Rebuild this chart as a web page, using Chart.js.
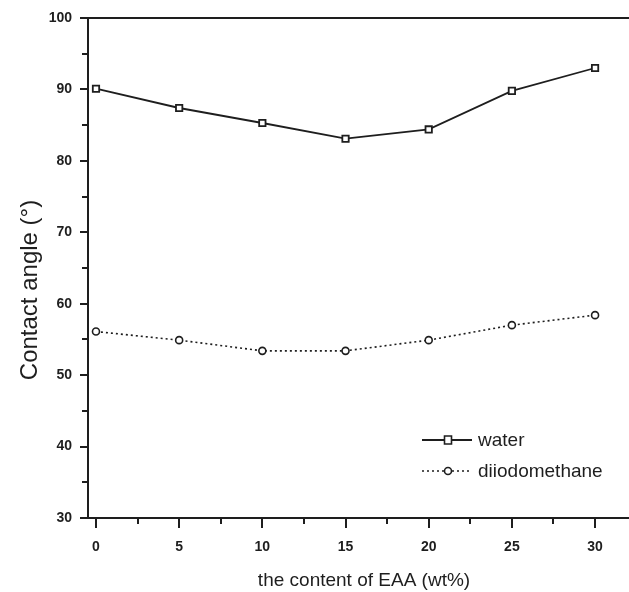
<!DOCTYPE html>
<html>
<head>
<meta charset="utf-8">
<script src="https://cdn.jsdelivr.net/npm/chart.js@4.4.1/dist/chart.umd.min.js"></script>
<style>
html,body{margin:0;padding:0;background:#fff;}
#wrap{width:629px;height:592px;}
</style>
</head>
<body>
<div id="wrap"><canvas id="c" width="629" height="592"></canvas></div>
<script>
const eaaContent = [0, 5, 10, 15, 20, 25, 30];
const waterAngle = [90.1, 87.4, 85.3, 83.1, 84.4, 89.8, 93.0];
const diiodomethaneAngle = [56.1, 54.9, 53.4, 53.4, 54.9, 57.0, 58.4];
const xTickLabels = [0, 5, 10, 15, 20, 25, 30];
const yTickLabels = [30, 40, 50, 60, 70, 80, 90, 100];
const seriesNames = ['water', 'diiodomethane'];

const INK = '#1e1e1e';

const decor = {
  id: 'decor',
  afterDraw(chart) {
    const ctx = chart.ctx;
    const xs = chart.scales.x, ys = chart.scales.y;
    const a = chart.chartArea;
    ctx.save();
    ctx.strokeStyle = INK;
    ctx.lineWidth = 2;
    // top frame line
    ctx.beginPath();
    ctx.moveTo(a.left - 1, a.top);
    ctx.lineTo(a.right, a.top);
    ctx.stroke();
    // y ticks (major/minor)
    for (let v = 30; v <= 100; v += 5) {
      const y = Math.round(ys.getPixelForValue(v));
      const len = v % 10 === 0 ? 8 : 6;
      ctx.beginPath();
      ctx.moveTo(a.left, y);
      ctx.lineTo(a.left - len, y);
      ctx.stroke();
    }
    // x ticks
    for (let v = 0; v <= 30; v += 2.5) {
      const x = Math.round(xs.getPixelForValue(v));
      const len = v % 5 === 0 ? 10 : 6;
      ctx.beginPath();
      ctx.moveTo(x, a.bottom);
      ctx.lineTo(x, a.bottom + len);
      ctx.stroke();
    }
    // axis titles
    ctx.fillStyle = INK;
    ctx.textAlign = 'center';
    ctx.textBaseline = 'middle';
    ctx.font = '19px "Liberation Sans", Arial, sans-serif';
    ctx.fillText('the content of EAA (wt%)', 364, 581);
    ctx.save();
    ctx.translate(30, 290);
    ctx.rotate(-Math.PI / 2);
    ctx.font = '24px "Liberation Sans", Arial, sans-serif';
    ctx.fillText('Contact angle (°)', 0, 0);
    ctx.restore();
    // legend
    const items = chart.data.datasets;
    const lx0 = 422, lx1 = 472, mx = 448;
    const ly = [440, 471];
    items.forEach((ds, i) => {
      const y = ly[i];
      ctx.strokeStyle = ds.borderColor;
      ctx.lineWidth = ds.borderWidth;
      ctx.setLineDash(ds.borderDash || []);
      ctx.beginPath();
      ctx.moveTo(lx0, y);
      ctx.lineTo(lx1, y);
      ctx.stroke();
      ctx.setLineDash([]);
      ctx.fillStyle = '#fff';
      ctx.lineWidth = 1.6;
      ctx.beginPath();
      if (ds.pointStyle === 'rect') {
        ctx.rect(mx - 3.5, y - 4, 7, 8);
      } else {
        ctx.arc(mx, y, 3.5, 0, Math.PI * 2);
      }
      ctx.fill();
      ctx.stroke();
      ctx.fillStyle = INK;
      ctx.textAlign = 'left';
      ctx.font = '19px "Liberation Sans", Arial, sans-serif';
      ctx.fillText(ds.label, 478, y + 1);
    });
    ctx.restore();
  }
};

new Chart(document.getElementById('c'), {
  type: 'line',
  data: {
    datasets: [
      {
        label: seriesNames[0],
        data: eaaContent.map((x, i) => ({x, y: waterAngle[i]})),
        borderColor: INK,
        borderWidth: 1.8,
        pointStyle: 'rect',
        pointRadius: 4.5,
        pointBorderWidth: 1.8,
        pointBackgroundColor: '#fff',
        pointBorderColor: INK,
        tension: 0
      },
      {
        label: seriesNames[1],
        data: eaaContent.map((x, i) => ({x, y: diiodomethaneAngle[i]})),
        borderColor: INK,
        borderWidth: 1.6,
        borderDash: [2, 3],
        pointStyle: 'circle',
        pointRadius: 3.5,
        pointBorderWidth: 1.6,
        pointBackgroundColor: '#fff',
        pointBorderColor: INK,
        tension: 0
      }
    ]
  },
  options: {
    responsive: false,
    animation: false,
    events: [],
    layout: { autoPadding: false, padding: { top: 18, right: 0, left: 0, bottom: 0 } },
    plugins: { legend: { display: false }, tooltip: { enabled: false } },
    scales: {
      x: {
        type: 'linear',
        min: -0.48,
        max: 32.04,
        afterBuildTicks(scale) { scale.ticks = xTickLabels.map(v => ({value: v})); },
        afterFit(scale) { scale.height = 74; scale.paddingLeft = 0; scale.paddingRight = 0; },
        grid: { display: false },
        border: { display: true, color: INK, width: 2 },
        ticks: {
          padding: 13,
          color: INK,
          maxRotation: 0,
          autoSkip: false,
          font: { family: '"Liberation Sans", Arial, sans-serif', size: 14, weight: 'bold' }
        }
      },
      y: {
        min: 30,
        max: 100,
        afterBuildTicks(scale) { scale.ticks = yTickLabels.map(v => ({value: v})); },
        afterFit(scale) { scale.width = 88; scale.paddingTop = 0; scale.paddingBottom = 0; },
        grid: { display: false },
        border: { display: true, color: INK, width: 2 },
        ticks: {
          padding: 8,
          color: INK,
          autoSkip: false,
          font: { family: '"Liberation Sans", Arial, sans-serif', size: 14, weight: 'bold' }
        }
      }
    }
  },
  plugins: [decor]
});
</script>
</body>
</html>
